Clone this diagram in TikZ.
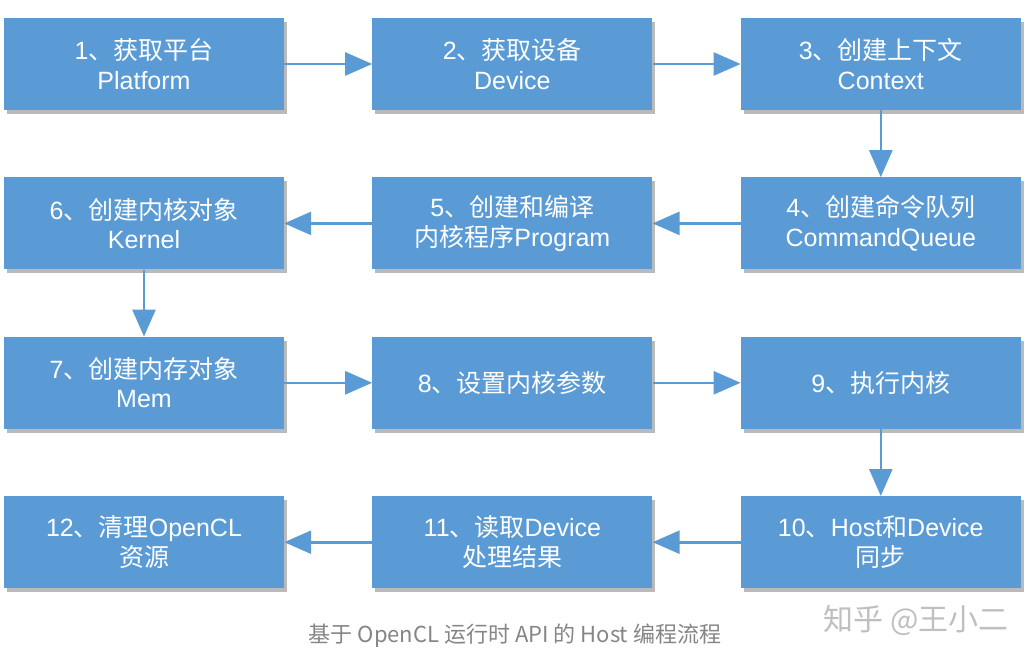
\documentclass[tikz,border=0pt]{standalone}
\usepackage{fontspec}
\setmainfont{Liberation Sans}
\newfontfamily\cjk{Noto Sans CJK SC}
\usepackage{xcolor}
\usepackage{tikz}
\usetikzlibrary{arrows.meta,positioning,shadows}

\definecolor{stepblue}{HTML}{5B9BD5}
\definecolor{capgray}{HTML}{858585}

\begin{document}
\begin{tikzpicture}[
  stepbox/.style={fill=stepblue, minimum width=280pt, minimum height=92pt, inner sep=0pt,
    text=white, align=center, font=\fontsize{25}{29.5}\selectfont,
    drop shadow={shadow xshift=3pt, shadow yshift=-4pt, opacity=0.45, fill=black!60}},
  arr/.style={-{Triangle[length=27pt, width=23pt]}, line width=2.6pt, stepblue},
  node distance=67pt and 88pt
]
  \useasboundingbox (0,0) rectangle (1028pt,-655pt);

  % Row 1
  \node[stepbox] (plat) at (144pt,-64pt) {1{\cjk 、获取平台}\\Platform};
  \node[stepbox, right=of plat] (dev) {2{\cjk 、获取设备}\\Device};
  \node[stepbox, right=of dev] (ctx) {3{\cjk 、创建上下文}\\Context};

  % Row 2
  \node[stepbox, below=of ctx] (queue) {4{\cjk 、创建命令队列}\\CommandQueue};
  \node[stepbox, left=of queue] (prog) {5{\cjk 、创建和编译}\\{\cjk 内核程序}Program};
  \node[stepbox, left=of prog] (kern) {6{\cjk 、创建内核对象}\\Kernel};

  % Row 3
  \node[stepbox, below=of kern] (mem) {7{\cjk 、创建内存对象}\\Mem};
  \node[stepbox, right=of mem] (args) {8{\cjk 、设置内核参数}};
  \node[stepbox, right=of args] (exec) {9{\cjk 、执行内核}};

  % Row 4
  \node[stepbox, below=of exec] (sync) {10{\cjk 、}Host{\cjk 和}Device\\{\cjk 同步}};
  \node[stepbox, left=of sync] (read) {11{\cjk 、读取}Device\\{\cjk 处理结果}};
  \node[stepbox, left=of read] (clean) {12{\cjk 、清理}OpenCL\\{\cjk 资源}};

  % Caption and mark
  \node[font=\cjk\fontsize{22}{26}\selectfont, text=capgray] (cap) at (515pt,-636pt)
    {基于 OpenCL 运行时 API 的 Host 编程流程};
  \node[font=\cjk\fontsize{30}{34}\selectfont, text=black!25, anchor=east] (mark) at (1012pt,-620pt)
    {知乎 @王小二};

  % Arrows
  \draw[arr] (plat) -- (dev);
  \draw[arr] (dev) -- (ctx);
  \draw[arr] (ctx) -- (queue);
  \draw[arr] (queue) -- (prog);
  \draw[arr] (prog) -- (kern);
  \draw[arr] (kern) -- (mem);
  \draw[arr] (mem) -- (args);
  \draw[arr] (args) -- (exec);
  \draw[arr] (exec) -- (sync);
  \draw[arr] (sync) -- (read);
  \draw[arr] (read) -- (clean);
\end{tikzpicture}
\end{document}
